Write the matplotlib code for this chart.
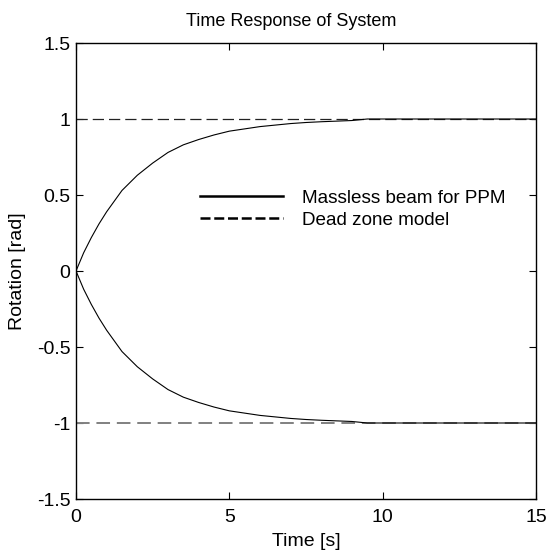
import matplotlib
matplotlib.use("Agg")
import matplotlib.pyplot as plt
from matplotlib.lines import Line2D

plt.rcParams['font.family'] = ['Liberation Sans', 'DejaVu Sans']

# data
time_s = [0, 0.25, 0.5, 0.75, 1.0, 1.5, 2.0, 2.5, 3.0, 3.5, 4.0, 4.5, 5.0,
          5.5, 6.0, 6.5, 7.0, 7.5, 8.0, 8.5, 9.0, 9.5, 10.0, 15.0]
massless_pos = [0, 0.12, 0.22, 0.31, 0.39, 0.53, 0.63, 0.71, 0.78, 0.83, 0.865,
                0.895, 0.92, 0.935, 0.95, 0.96, 0.97, 0.977, 0.982, 0.986, 0.99,
                1.0, 1.0, 1.0]
massless_neg = [0, -0.12, -0.22, -0.31, -0.39, -0.53, -0.63, -0.71, -0.78, -0.83,
                -0.865, -0.895, -0.92, -0.935, -0.95, -0.96, -0.97, -0.977, -0.982,
                -0.986, -0.99, -1.0, -1.0, -1.0]
dead_t = [0, 15]
dead_pos = [1, 1]
dead_neg = [-1, -1]

xticks = [0, 5, 10, 15]
yticks = [-1.5, -1, -0.5, 0, 0.5, 1, 1.5]
yticklabels = ['-1.5', '-1', '-0.5', '0', '0.5', '1', '1.5']
labels = ['Massless beam for PPM', 'Dead zone model']

fig = plt.figure(figsize=(5.47, 5.57), dpi=100)
ax = fig.add_axes([76/547, 1-499/557, (536-76)/547, (499-43)/557])

ax.plot(dead_t, dead_pos, color='#222222', lw=0.9, dashes=(9, 4))
ax.plot(dead_t, dead_neg, color='#808080', lw=1.4, dashes=(7, 3.5))
ax.plot(time_s, massless_pos, color='black', lw=0.8)
ax.plot(time_s, massless_neg, color='black', lw=0.8)

ax.set_xlim(0, 15)
ax.set_ylim(-1.5, 1.5)
ax.set_xticks(xticks)
ax.set_xticklabels([str(v) for v in xticks])
ax.set_yticks(yticks)
ax.set_yticklabels(yticklabels)
ax.tick_params(direction='in', top=True, right=True, length=5, width=0.8,
               labelsize=14, pad=4)
ax.tick_params(axis='x', pad=7)
for s in ax.spines.values():
    s.set_linewidth(1.0)

ax.set_title('Time Response of System', fontsize=13, pad=12, x=0.468)
ax.set_xlabel('Time [s]', fontsize=14, labelpad=5)
ax.set_ylabel('Rotation [rad]', fontsize=14, labelpad=8)

handles = [Line2D([], [], color='black', lw=1.8),
           Line2D([], [], color='black', lw=1.8, dashes=(4, 1.5))]
leg = fig.legend(handles, labels, loc='center left',
                 bbox_to_anchor=(200/547, 1-209/557), frameon=False,
                 fontsize=13.6, handlelength=4.4, handletextpad=1.0,
                 labelspacing=0.25, borderaxespad=0, borderpad=0)

fig.savefig('out.png', dpi=100)
